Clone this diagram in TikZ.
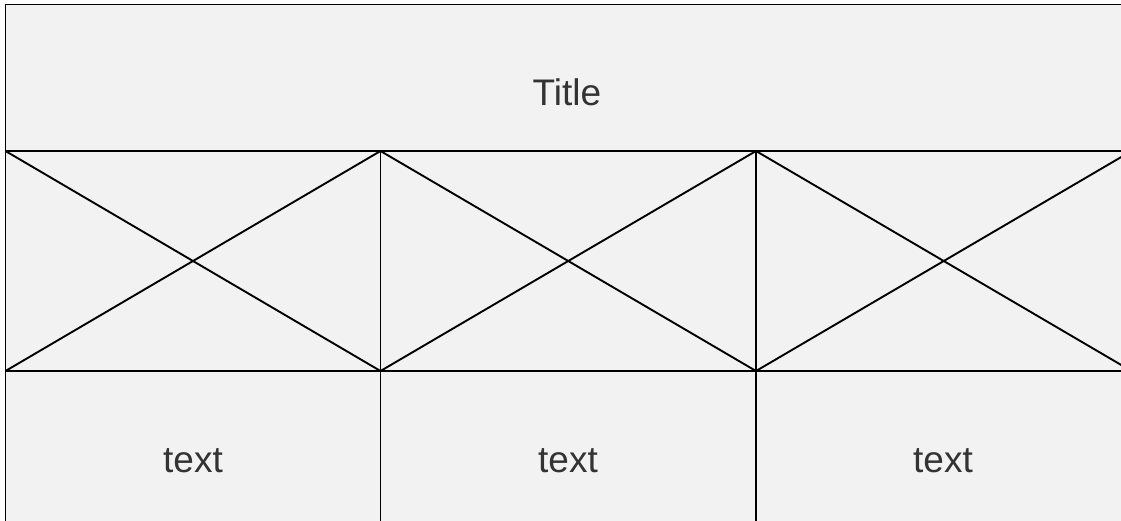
\documentclass[tikz,border=0pt]{standalone}
\usepackage{fontspec}
\setmainfont{Liberation Sans}
\definecolor{cellgray}{HTML}{F2F2F2}
\definecolor{textgray}{HTML}{333333}
\begin{document}
\begin{tikzpicture}
	[x=1pt,y=-1pt,line width=1.9pt,
	caption/.style={text=textgray,font=\fontsize{37}{41}\selectfont}]
\useasboundingbox[fill=white] (0,0) rectangle (1121,520);
\clip (0,0) rectangle (1121,520);
\fill[cellgray] (5,4) rectangle (1140,560);
% grid points
\coordinate (top0) at (5.5,4.5);
\coordinate (top3) at (1140,4.5);
\foreach \x [count=\i from 0] in {5.5,380.5,756,1131.5}{
	\coordinate (t\i) at (\x,151);
	\coordinate (b\i) at (\x,371);
	\coordinate (e\i) at (\x,551);
}
\draw (e0) -- (top0) -- (top3);
\draw (t0) -- (1140,151);
\draw (b0) -- (1140,371);
\draw (e0) -- (1140,551);
\draw (t1) -- (e1);
\draw (t2) -- (e2);
\draw (t3) -- (e3);
% crosses
\draw (t0) -- (b1) (b0) -- (t1);
\draw (t1) -- (b2) (b1) -- (t2);
\draw (t2) -- (b3) (b2) -- (t3);
\node[caption] (title) at (567,92) {Title};
\node[caption] (text1) at (193,461) {text};
\node[caption] (text2) at (568,461) {text};
\node[caption] (text3) at (943,461) {text};
\end{tikzpicture}
\end{document}
